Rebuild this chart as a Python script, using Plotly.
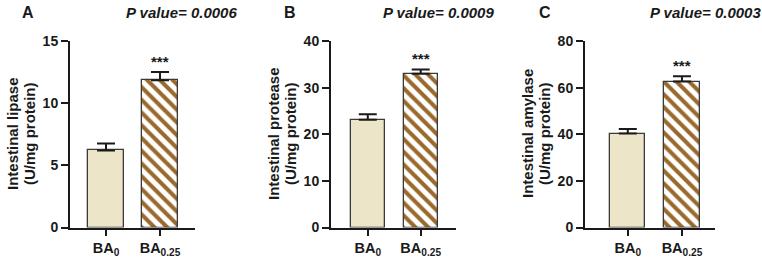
import plotly.graph_objects as go

categories = ["BA<sub>0</sub>", "BA<sub>0.25</sub>"]
lipase = [6.2, 11.85]
lipase_err = [0.55, 0.65]
protease = [23.1, 33.0]
protease_err = [1.2, 0.9]
amylase = [40.3, 62.6]
amylase_err = [2.0, 2.3]
panel_letters = ["A", "B", "C"]
p_values = ["P value= 0.0006", "P value= 0.0009", "P value= 0.0003"]
y_title_line1 = ["Intestinal lipase", "Intestinal protease", "Intestinal amylase"]
y_title_line2 = ["(U/mg protein)", "(U/mg protein)", "(U/mg protein)"]
y_max = [15, 40, 80]
y_dtick = [5, 10, 20]

W, H = 762, 259
FONT = "Liberation Sans, Arial, sans-serif"
INK = "#1a1a1a"

panels = [
    dict(vals=lipase, err=lipase_err, dom=(70, 195), rng=(-0.667, 1.648), letter_x=28, p_x=181),
    dict(vals=protease, err=protease_err, dom=(331, 456), rng=(-0.695, 1.667), letter_x=290, p_x=438),
    dict(vals=amylase, err=amylase_err, dom=(585, 715), rng=(-0.79, 1.61), letter_x=545, p_x=705),
]

y_bot = 227.5
y_top = 41
ydom = [(H - y_bot) / H, (H - y_top) / H]

fig = go.Figure()
annotations = []
for i, p in enumerate(panels):
    xa = "x" if i == 0 else f"x{i+1}"
    ya = "y" if i == 0 else f"y{i+1}"
    fig.add_trace(go.Bar(
        x=[0], y=[p["vals"][0]], xaxis=xa, yaxis=ya, width=0.65,
        marker=dict(color="#ECE5C8", line=dict(color="#3a3a3a", width=1.3)),
        error_y=dict(type="data", array=[p["err"][0]], arrayminus=[0], symmetric=False,
                     color=INK, thickness=2, width=9),
        showlegend=False,
    ))
    fig.add_trace(go.Bar(
        x=[1], y=[p["vals"][1]], xaxis=xa, yaxis=ya, width=0.65,
        marker=dict(
            color="#9A6A2C",
            line=dict(color="#3a3a3a", width=1.3),
            pattern=dict(shape="\\", fgcolor="#9A6A2C", bgcolor="#ffffff",
                         size=9, solidity=0.45, fillmode="replace"),
        ),
        error_y=dict(type="data", array=[p["err"][1]], arrayminus=[0], symmetric=False,
                     color=INK, thickness=2, width=9),
        showlegend=False,
    ))
    d0, d1 = p["dom"]
    fig.layout[("xaxis" if i == 0 else f"xaxis{i+1}")] = dict(
        domain=[d0 / W, d1 / W], range=list(p["rng"]), anchor=ya,
        tickmode="array", tickvals=[0, 1], ticktext=categories,
        showline=True, linecolor=INK, linewidth=2, ticks="outside", ticklen=6, tickwidth=2,
        tickcolor=INK, showgrid=False, zeroline=False,
        tickfont=dict(family=FONT, size=14.5, color=INK, weight="bold"),
    )
    fig.layout[("yaxis" if i == 0 else f"yaxis{i+1}")] = dict(
        domain=ydom, range=[0, y_max[i]], anchor=xa, dtick=y_dtick[i], tick0=0,
        showline=True, linecolor=INK, linewidth=2, ticks="outside", ticklen=7, tickwidth=2,
        tickcolor=INK, showgrid=False, zeroline=False,
        tickfont=dict(family=FONT, size=14, color=INK, weight="bold"),
    )
    annotations.append(dict(
        x=1, y=p["vals"][1] + p["err"][1], xref=xa, yref=ya, text="***",
        showarrow=False, xanchor="center", yanchor="bottom", yshift=0,
        font=dict(family=FONT, size=15, color=INK, weight="bold"),
    ))
    for line, off in ((y_title_line1[i], 58), (y_title_line2[i], 41)):
        annotations.append(dict(
            x=(d0 - off) / W, y=(H - 134) / H, xref="paper", yref="paper",
            text=line, textangle=-90, showarrow=False, xanchor="center", yanchor="middle",
            font=dict(family=FONT, size=15, color=INK, weight="bold"),
        ))
    annotations.append(dict(
        x=p["letter_x"] / W, y=(H - 12) / H, xref="paper", yref="paper",
        text=panel_letters[i], showarrow=False, xanchor="center", yanchor="middle",
        font=dict(family=FONT, size=16, color=INK, weight="bold"),
    ))
    annotations.append(dict(
        x=p["p_x"] / W, y=(H - 12) / H, xref="paper", yref="paper",
        text=p_values[i], showarrow=False, xanchor="center", yanchor="middle",
        font=dict(family=FONT, size=15, color=INK, weight="bold", style="italic"),
    ))

fig.update_layout(
    width=W, height=H, margin=dict(l=0, r=0, t=0, b=0, autoexpand=False),
    paper_bgcolor="white", plot_bgcolor="white",
    annotations=annotations, bargap=0, barmode="overlay",
)
fig.write_html("out.html")
